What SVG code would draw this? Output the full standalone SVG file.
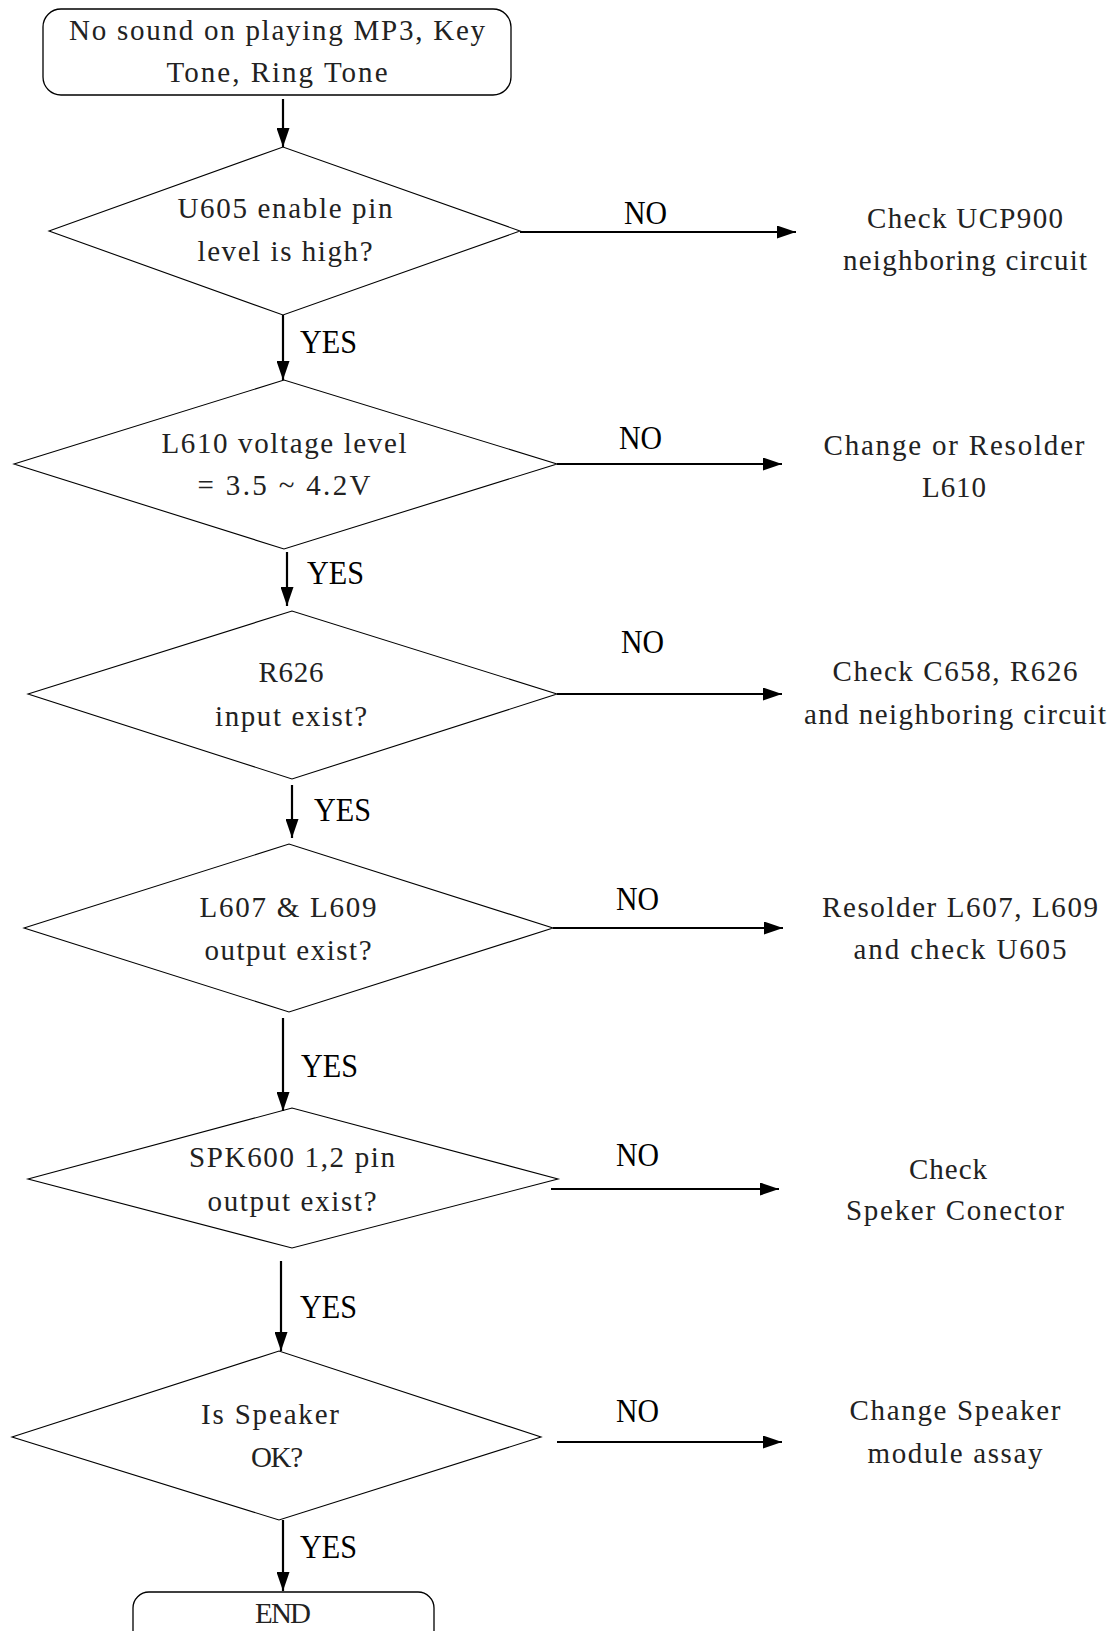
<svg xmlns="http://www.w3.org/2000/svg" width="1109" height="1631" viewBox="0 0 1109 1631">
<style>
.box{fill:#fff;stroke:#000;stroke-width:1.3}
.dia{fill:#fff;stroke:#000;stroke-width:1.1}
.t{font-family:"Liberation Serif","Times New Roman",serif;font-size:29px;fill:#222;text-anchor:middle}
.lbl{font-family:"Liberation Serif","Times New Roman",serif;font-size:34px;fill:#000}
.c{stroke:#000;stroke-width:2.2;fill:none;marker-end:url(#ah)}
</style>
<defs>
<marker id="ah" markerUnits="userSpaceOnUse" markerWidth="19" markerHeight="13" refX="19" refY="6.5" orient="auto">
<path d="M0,0 L19,6.5 L0,13 z" fill="#000"/>
</marker>
</defs>
<rect width="1109" height="1631" fill="#fff"/>

<g id="start">
<rect class="box" x="43" y="9" width="468" height="86" rx="18"/>
<text class="t" x="277" y="40" textLength="416" lengthAdjust="spacing">No sound on playing MP3, Key</text>
<text class="t" x="277" y="82" textLength="221" lengthAdjust="spacing">Tone, Ring Tone</text>
</g>

<g id="d1">
<polygon class="dia" points="49,231 283,147 520,231 283,315"/>
<text class="t" x="285" y="218" textLength="215" lengthAdjust="spacing">U605 enable pin</text>
<text class="t" x="285" y="261" textLength="175" lengthAdjust="spacing">level is high?</text>
</g>
<g id="r1">
<text class="t" x="965" y="228" textLength="196" lengthAdjust="spacing">Check UCP900</text>
<text class="t" x="965" y="270" textLength="244" lengthAdjust="spacing">neighboring circuit</text>
</g>

<g id="d2">
<polygon class="dia" points="14,464 284,380 557,464 284,549"/>
<text class="t" x="284" y="453" textLength="245" lengthAdjust="spacing">L610 voltage level</text>
<text class="t" x="284" y="495" textLength="173" lengthAdjust="spacing">= 3.5 ~ 4.2V</text>
</g>
<g id="r2">
<text class="t" x="954" y="455" textLength="261" lengthAdjust="spacing">Change or Resolder</text>
<text class="t" x="954" y="497" textLength="64" lengthAdjust="spacing">L610</text>
</g>

<g id="d3">
<polygon class="dia" points="28,694 292,611 557,694 292,779"/>
<text class="t" x="291" y="682" textLength="65" lengthAdjust="spacing">R626</text>
<text class="t" x="291" y="726" textLength="152" lengthAdjust="spacing">input exist?</text>
</g>
<g id="r3">
<text class="t" x="955" y="681" textLength="245" lengthAdjust="spacing">Check C658, R626</text>
<text class="t" x="955" y="724" textLength="302" lengthAdjust="spacing">and neighboring circuit</text>
</g>

<g id="d4">
<polygon class="dia" points="24,928 289,844 553,928 289,1012"/>
<text class="t" x="288" y="917" textLength="177" lengthAdjust="spacing">L607 &amp; L609</text>
<text class="t" x="288" y="960" textLength="167" lengthAdjust="spacing">output exist?</text>
</g>
<g id="r4">
<text class="t" x="960" y="917" textLength="276" lengthAdjust="spacing">Resolder L607, L609</text>
<text class="t" x="960" y="959" textLength="213" lengthAdjust="spacing">and check U605</text>
</g>

<g id="d5">
<polygon class="dia" points="28,1179 292,1108 558,1179 292,1248"/>
<text class="t" x="292" y="1167" textLength="206" lengthAdjust="spacing">SPK600 1,2 pin</text>
<text class="t" x="292" y="1211" textLength="169" lengthAdjust="spacing">output exist?</text>
</g>
<g id="r5">
<text class="t" x="948" y="1179" textLength="78" lengthAdjust="spacing">Check</text>
<text class="t" x="955" y="1220" textLength="218" lengthAdjust="spacing">Speker Conector</text>
</g>

<g id="d6">
<polygon class="dia" points="12,1437 279,1351 541,1437 279,1520"/>
<text class="t" x="270" y="1424" textLength="138" lengthAdjust="spacing">Is Speaker</text>
<text class="t" x="277" y="1467" textLength="52" lengthAdjust="spacing">OK?</text>
</g>
<g id="r6">
<text class="t" x="955" y="1420" textLength="211" lengthAdjust="spacing">Change Speaker</text>
<text class="t" x="955" y="1463" textLength="175" lengthAdjust="spacing">module assay</text>
</g>

<g id="end">
<rect class="box" x="133" y="1592" width="301" height="60" rx="16"/>
<text class="t" x="283" y="1623" textLength="56" lengthAdjust="spacing">END</text>
</g>

<g id="connectors">
<line class="c" x1="283" y1="99" x2="283" y2="147"/>
<line class="c" x1="520" y1="232" x2="796" y2="232"/>
<line class="c" x1="283" y1="315" x2="283" y2="380"/>
<line class="c" x1="557" y1="464" x2="782" y2="464"/>
<line class="c" x1="287" y1="552" x2="287" y2="606"/>
<line class="c" x1="557" y1="694" x2="782" y2="694"/>
<line class="c" x1="292" y1="785" x2="292" y2="838"/>
<line class="c" x1="553" y1="928" x2="783" y2="928"/>
<line class="c" x1="283" y1="1018" x2="283" y2="1111"/>
<line class="c" x1="551" y1="1189" x2="779" y2="1189"/>
<line class="c" x1="281" y1="1261" x2="281" y2="1351"/>
<line class="c" x1="557" y1="1442" x2="782" y2="1442"/>
<line class="c" x1="283" y1="1520" x2="283" y2="1591"/>
<text class="lbl" x="624" y="224" textLength="43" lengthAdjust="spacingAndGlyphs">NO</text>
<text class="lbl" x="300" y="353" textLength="57" lengthAdjust="spacingAndGlyphs">YES</text>
<text class="lbl" x="619" y="449" textLength="43" lengthAdjust="spacingAndGlyphs">NO</text>
<text class="lbl" x="307" y="584" textLength="57" lengthAdjust="spacingAndGlyphs">YES</text>
<text class="lbl" x="621" y="653" textLength="43" lengthAdjust="spacingAndGlyphs">NO</text>
<text class="lbl" x="314" y="821" textLength="57" lengthAdjust="spacingAndGlyphs">YES</text>
<text class="lbl" x="616" y="910" textLength="43" lengthAdjust="spacingAndGlyphs">NO</text>
<text class="lbl" x="301" y="1077" textLength="57" lengthAdjust="spacingAndGlyphs">YES</text>
<text class="lbl" x="616" y="1166" textLength="43" lengthAdjust="spacingAndGlyphs">NO</text>
<text class="lbl" x="300" y="1318" textLength="57" lengthAdjust="spacingAndGlyphs">YES</text>
<text class="lbl" x="616" y="1422" textLength="43" lengthAdjust="spacingAndGlyphs">NO</text>
<text class="lbl" x="300" y="1558" textLength="57" lengthAdjust="spacingAndGlyphs">YES</text>
</g>
</svg>
